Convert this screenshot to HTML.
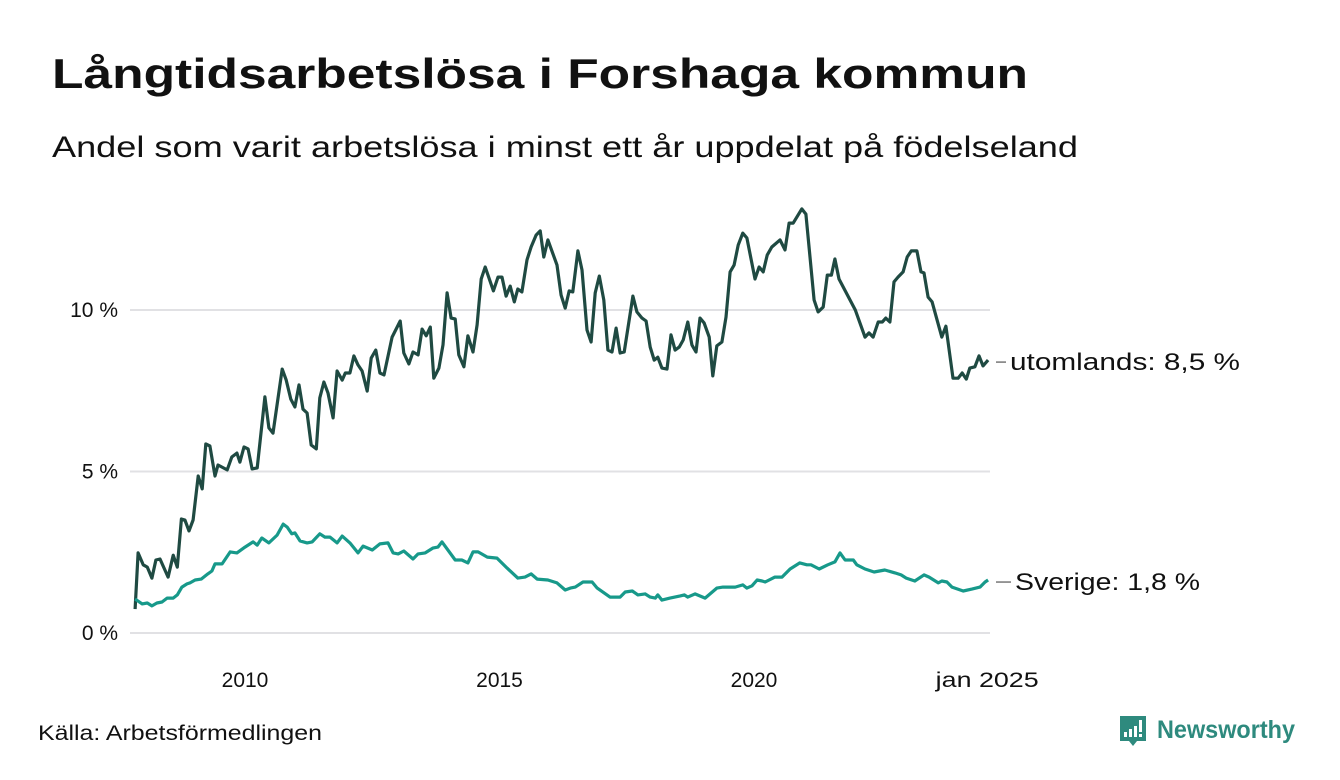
<!DOCTYPE html>
<html><head><meta charset="utf-8"><style>
html,body{margin:0;padding:0;background:#fff;}
svg{display:block;font-family:"Liberation Sans","Noto Sans CJK SC",sans-serif;}
</style></head><body>
<svg id="chart" width="1340" height="780" viewBox="0 0 1340 780">
<text x="52" y="88" font-size="42" font-weight="bold" fill="#111" textLength="976" lengthAdjust="spacingAndGlyphs">Långtidsarbetslösa i Forshaga kommun</text>
<text x="52" y="157" font-size="30" fill="#111" textLength="1026" lengthAdjust="spacingAndGlyphs">Andel som varit arbetslösa i minst ett år uppdelat på födelseland</text>
<g id="grid"></g>
<g id="yticks"></g>
<g id="xticks"></g>
<g id="series"></g>
<g id="labels"></g>
<text x="38" y="740" font-size="21" fill="#111" textLength="284" lengthAdjust="spacingAndGlyphs">Källa: Arbetsförmedlingen</text>
<g>
<path d="M1120 716 h26 v25 h-9 l-4 5 l-4 -5 h-9 z" fill="#2e8a7e"/>
<rect x="1124" y="732" width="3" height="5" fill="#fff"/>
<rect x="1129" y="729" width="3" height="8" fill="#fff"/>
<rect x="1134" y="726" width="3" height="11" fill="#fff"/>
<rect x="1139" y="720" width="3" height="12" fill="#fff"/>
<rect x="1139" y="734" width="3" height="3" fill="#fff"/>
<text x="1157" y="738" font-size="25" font-weight="bold" fill="#2e8a7e" textLength="138" lengthAdjust="spacingAndGlyphs">Newsworthy</text>
</g>
</svg>
<script>
const utomYears=[2007.84,2007.90,2008.00,2008.08,2008.17,2008.25,2008.33,2008.49,2008.59,2008.67,2008.75,2008.82,2008.90,2008.98,2009.08,2009.16,2009.23,2009.31,2009.41,2009.47,2009.65,2009.74,2009.84,2009.90,2009.98,2010.06,2010.14,2010.24,2010.39,2010.47,2010.55,2010.73,2010.81,2010.90,2010.98,2011.06,2011.14,2011.22,2011.30,2011.40,2011.47,2011.55,2011.63,2011.73,2011.81,2011.91,2011.97,2012.06,2012.14,2012.22,2012.30,2012.40,2012.48,2012.57,2012.65,2012.73,2012.89,2013.05,2013.12,2013.22,2013.30,2013.40,2013.48,2013.56,2013.64,2013.71,2013.81,2013.89,2013.97,2014.05,2014.13,2014.20,2014.30,2014.38,2014.48,2014.56,2014.64,2014.72,2014.88,2014.97,2015.05,2015.13,2015.21,2015.29,2015.36,2015.44,2015.54,2015.62,2015.72,2015.80,2015.87,2015.95,2016.13,2016.21,2016.29,2016.37,2016.44,2016.54,2016.62,2016.72,2016.80,2016.88,2016.96,2017.05,2017.13,2017.21,2017.29,2017.37,2017.45,2017.62,2017.70,2017.80,2017.88,2017.96,2018.04,2018.11,2018.19,2018.29,2018.37,2018.45,2018.53,2018.61,2018.70,2018.78,2018.86,2018.94,2019.02,2019.12,2019.19,2019.27,2019.37,2019.45,2019.53,2019.61,2019.69,2019.78,2019.86,2020.02,2020.10,2020.18,2020.26,2020.35,2020.51,2020.61,2020.69,2020.77,2020.94,2021.02,2021.10,2021.18,2021.26,2021.36,2021.44,2021.52,2021.59,2021.67,2021.99,2022.18,2022.26,2022.34,2022.44,2022.52,2022.59,2022.67,2022.75,2022.83,2022.93,2023.01,2023.09,2023.20,2023.28,2023.34,2023.42,2023.50,2023.69,2023.77,2023.91,2024.01,2024.09,2024.17,2024.24,2024.34,2024.42,2024.50,2024.60];
const utomValues=[0.74,2.48,2.11,2.04,1.70,2.26,2.29,1.73,2.41,2.04,3.53,3.50,3.16,3.50,4.86,4.46,5.85,5.79,4.86,5.20,5.05,5.45,5.57,5.29,5.76,5.70,5.08,5.11,7.31,6.35,6.19,8.17,7.83,7.24,7.00,7.68,6.93,6.81,5.82,5.70,7.28,7.77,7.43,6.66,8.11,7.83,8.05,8.05,8.58,8.30,8.11,7.49,8.51,8.76,8.05,7.99,9.16,9.66,8.67,8.33,8.70,8.61,9.41,9.20,9.47,7.89,8.20,8.92,10.53,9.75,9.72,8.61,8.24,9.20,8.70,9.54,10.96,11.33,10.59,11.02,11.02,10.43,10.74,10.25,10.65,10.56,11.55,11.95,12.32,12.45,11.64,12.17,11.39,10.46,10.06,10.59,10.56,11.83,11.24,9.38,9.01,10.53,11.05,10.31,8.76,8.70,9.44,8.67,8.70,10.43,9.94,9.75,9.66,8.85,8.45,8.54,8.20,8.17,9.23,8.76,8.85,9.07,9.63,8.92,8.70,9.75,9.60,9.16,7.96,8.89,9.01,9.78,11.18,11.39,12.01,12.38,12.23,10.96,11.33,11.18,11.70,11.95,12.17,11.86,12.69,12.69,13.13,12.97,11.64,10.31,9.94,10.09,11.08,11.08,11.58,10.96,10.00,9.16,9.29,9.16,9.63,9.63,9.75,9.63,10.87,11.02,11.18,11.64,11.83,11.83,11.18,11.15,10.40,10.25,9.16,9.50,7.89,7.89,8.05,7.86,8.20,8.24,8.58,8.27,8.45];
const sveYears=[2007.84,2007.98,2008.08,2008.17,2008.27,2008.37,2008.47,2008.59,2008.67,2008.76,2008.86,2008.92,2009.02,2009.14,2009.27,2009.35,2009.41,2009.55,2009.71,2009.84,2010.00,2010.16,2010.24,2010.33,2010.47,2010.63,2010.75,2010.83,2010.92,2010.98,2011.08,2011.22,2011.32,2011.47,2011.57,2011.67,2011.81,2011.91,2012.06,2012.22,2012.32,2012.50,2012.65,2012.81,2012.91,2013.01,2013.12,2013.30,2013.40,2013.54,2013.69,2013.79,2013.87,2014.13,2014.26,2014.38,2014.48,2014.58,2014.76,2014.95,2015.15,2015.36,2015.50,2015.62,2015.74,2015.95,2016.13,2016.29,2016.39,2016.49,2016.64,2016.82,2016.92,2017.17,2017.37,2017.47,2017.61,2017.72,2017.86,2017.96,2018.06,2018.11,2018.19,2018.35,2018.55,2018.63,2018.70,2018.84,2019.04,2019.27,2019.39,2019.63,2019.78,2019.86,2019.96,2020.06,2020.16,2020.22,2020.41,2020.55,2020.71,2020.90,2021.04,2021.12,2021.28,2021.45,2021.59,2021.69,2021.79,2021.95,2022.02,2022.18,2022.36,2022.57,2022.77,2022.89,2022.99,2023.16,2023.34,2023.44,2023.62,2023.69,2023.79,2023.89,2024.11,2024.28,2024.44,2024.54,2024.60];
const sveValues=[1.05,0.90,0.93,0.84,0.93,0.96,1.08,1.08,1.18,1.42,1.52,1.55,1.64,1.67,1.83,1.92,2.14,2.14,2.51,2.48,2.66,2.82,2.72,2.94,2.79,3.03,3.37,3.28,3.07,3.10,2.85,2.79,2.82,3.07,2.97,2.97,2.79,3.00,2.79,2.48,2.69,2.57,2.76,2.79,2.48,2.45,2.54,2.29,2.45,2.48,2.63,2.66,2.82,2.26,2.26,2.17,2.51,2.51,2.35,2.32,2.01,1.70,1.73,1.83,1.67,1.64,1.55,1.33,1.39,1.42,1.58,1.58,1.39,1.11,1.11,1.27,1.30,1.18,1.21,1.11,1.08,1.18,1.02,1.08,1.15,1.18,1.11,1.21,1.08,1.39,1.42,1.42,1.49,1.39,1.46,1.64,1.61,1.58,1.73,1.73,1.98,2.17,2.11,2.11,1.98,2.11,2.20,2.48,2.26,2.26,2.11,1.98,1.89,1.95,1.86,1.80,1.70,1.61,1.80,1.73,1.55,1.61,1.58,1.42,1.30,1.36,1.42,1.58,1.64];
const yTickValues=[0,5,10];
const yTickLabels=["0 %","5 %","10 %"];
const xTickYears=[2010,2015,2020,2024.64];
const xTickLabels=["2010","2015","2020","jan 2025"];
const endLabels=["utomlands: 8,5 %","Sverige: 1,8 %"];

const NS="http://www.w3.org/2000/svg";
function xs(t){return 245+(t-2010)*50.9;}
function ys(v){return 633-v*32.3;}
function mk(tag,attrs,parent){const e=document.createElementNS(NS,tag);for(const k in attrs)e.setAttribute(k,attrs[k]);parent.appendChild(e);return e;}
const grid=document.getElementById('grid'),yt=document.getElementById('yticks'),xt=document.getElementById('xticks'),ser=document.getElementById('series'),lab=document.getElementById('labels');
yTickValues.forEach((v,i)=>{
  const l=mk('line',{x1:130,x2:990,y1:ys(v),y2:ys(v),stroke:'#e1e1e4','stroke-width':2},grid);
  
  
  const t=mk('text',{x:118,y:ys(v)+7,'font-size':21,'text-anchor':'end',fill:'#111'},yt);
  t.textContent=yTickLabels[i];
  
  
});
xTickYears.forEach((y,i)=>{
  const t=mk('text',{x:xs(y)+(i===3?-3:0),y:687,'font-size':21,'text-anchor':'middle',fill:'#111'},xt);
  t.textContent=xTickLabels[i];
  if(i===3){t.setAttribute('textLength','103');t.setAttribute('lengthAdjust','spacingAndGlyphs');}
  
  
});
function path(years,vals){return years.map((t,i)=>(i?'L':'M')+xs(t).toFixed(1)+' '+ys(vals[i]).toFixed(1)).join(' ');}
const p1=mk('path',{d:path(utomYears,utomValues),fill:'none',stroke:'#1f4a42','stroke-width':3.2,'stroke-linejoin':'round'},ser);


const p2=mk('path',{d:path(sveYears,sveValues),fill:'none',stroke:'#17998a','stroke-width':3.2,'stroke-linejoin':'round'},ser);


const lastU=utomValues[utomValues.length-1],lastS=sveValues[sveValues.length-1];
[[lastU,endLabels[0],1010,230],[lastS,endLabels[1],1015,185]].forEach(([v,txt,x,w],i)=>{
  const y=ys(v)+2;
  const d=mk('line',{x1:996,x2:x-4,y1:y,y2:y,stroke:'#333','stroke-width':1},lab);
  
  
  const t=mk('text',{x:x,y:y+8,'font-size':24,fill:'#111',textLength:w,lengthAdjust:'spacingAndGlyphs'},lab);
  t.textContent=txt;
  
  
});
</script>
</body></html>
